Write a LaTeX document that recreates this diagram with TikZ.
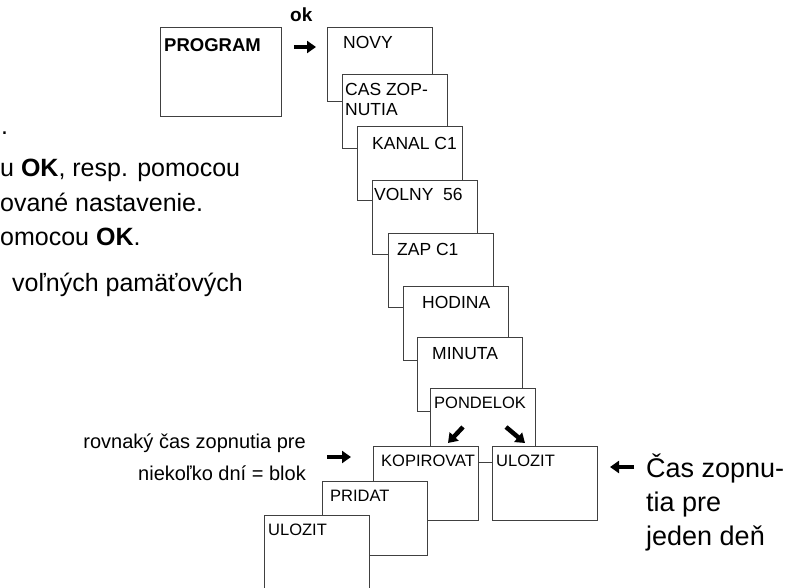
\documentclass[tikz,border=0pt]{standalone}
\usepackage{fontspec}
\setmainfont{Liberation Sans}
\usetikzlibrary{arrows.meta}

\begin{document}
\begin{tikzpicture}[x=1pt,y=-1pt,
  screen/.style={draw=black!75,line width=0.9pt,fill=white,minimum width=105pt,
    minimum height=74pt,inner sep=0pt,anchor=north west},
  lbl/.style={anchor=north west,inner sep=0pt,font=\fontsize{17.5}{20}\selectfont},
  small lbl/.style={lbl,font=\fontsize{16.5}{19}\selectfont},
  big arrow/.style={line width=4.5pt,-{Triangle[length=9pt,width=12pt]}},
  note/.style={inner sep=0pt,anchor=base west,font=\fontsize{25}{30}\selectfont},
  side note/.style={inner sep=0pt,anchor=base east,font=\fontsize{20}{24}\selectfont}]
  \useasboundingbox (0,0) rectangle (785,588);

  % text cut off on the left
  \node[note] (t0) at (1,135) {.};
  \node[note] (t1) at (0,177) {u \textbf{OK}, resp. pomocou};
  \node[note] (t2) at (0,212) {ované nastavenie.};
  \node[note] (t3) at (0,246) {omocou \textbf{OK}.};
  \node[note] (t4) at (12,292) {voľných pamäťových};

  % menu
  \node[screen,minimum width=121pt,minimum height=89pt,
    label={[lbl,xshift=4pt,yshift=-11pt,font=\bfseries\fontsize{18.5}{20}\selectfont]north west:PROGRAM}]
    (prog) at (160,27) {};
  \node[inner sep=0pt,anchor=base west,font=\bfseries\fontsize{19}{20}\selectfont] (ok) at (290,22) {ok};

  \node[screen,label={[lbl,xshift=16pt,yshift=-9pt]north west:NOVY}] (novy) at (327,27) {};
  \node[screen,label={[lbl,xshift=3pt,yshift=-9pt,align=left]north west:CAS ZOP-\\NUTIA}] (caszop) at (342,74) {};
  \node[screen,label={[lbl,xshift=15pt,yshift=-11pt]north west:KANAL C1}] (kanal) at (357,126) {};
  \node[screen,label={[lbl,xshift=2pt,yshift=-8pt]north west:VOLNY\ \ 56}] (volny) at (372,180) {};
  \node[screen,label={[lbl,xshift=9pt,yshift=-10pt]north west:ZAP C1}] (zap) at (388,233) {};
  \node[screen,label={[lbl,xshift=19pt,yshift=-10pt]north west:HODINA}] (hodina) at (403,286) {};
  \node[screen,label={[lbl,xshift=15pt,yshift=-10pt]north west:MINUTA}] (minuta) at (417,337) {};
  \node[screen,label={[small lbl,xshift=4pt,yshift=-9pt]north west:PONDELOK}] (pondelok) at (430,388) {};

  \node[screen,label={[small lbl,xshift=8pt,yshift=-9pt]north west:KOPIROVAT}] (kopirovat) at (373,446) {};
  \node[screen,label={[small lbl,xshift=4pt,yshift=-9pt]north west:ULOZIT}] (ulozit den) at (492,446) {};
  \node[screen,label={[small lbl,xshift=8pt,yshift=-9pt]north west:PRIDAT}] (pridat) at (322,481) {};
  \node[screen,label={[small lbl,xshift=4pt,yshift=-9pt]north west:ULOZIT}] (ulozit blok) at (264,515) {};

  % arrows
  \draw[big arrow,shorten <=12pt,shorten >=11pt]
    ([yshift=-20pt]prog.north east) -- ([yshift=-20pt]novy.north west);
  \coordinate (dl) at (463,427);
  \coordinate (dr) at (506,427);
  \draw[big arrow] (dl) -- ++(-15,16);
  \draw[big arrow] (dr) -- ++(19,16);
  \coordinate (blok in) at (327,457);
  \draw[big arrow] (blok in) -- ++(24,0);
  \coordinate (den in) at (634,467);
  \draw[big arrow] (den in) -- ++(-24,0);

  % side notes
  \node[side note] (blok1) at (306,448) {rovnaký čas zopnutia pre};
  \node[side note] (blok2) at (306,480) {niekoľko dní = blok};
  \node[note,font=\fontsize{27}{31}\selectfont] (den1) at (646,477) {Čas zopnu-};
  \node[note,font=\fontsize{27}{31}\selectfont] (den2) at (646,511) {tia pre};
  \node[note,font=\fontsize{27}{31}\selectfont] (den3) at (646,545) {jeden deň};
\end{tikzpicture}
\end{document}
